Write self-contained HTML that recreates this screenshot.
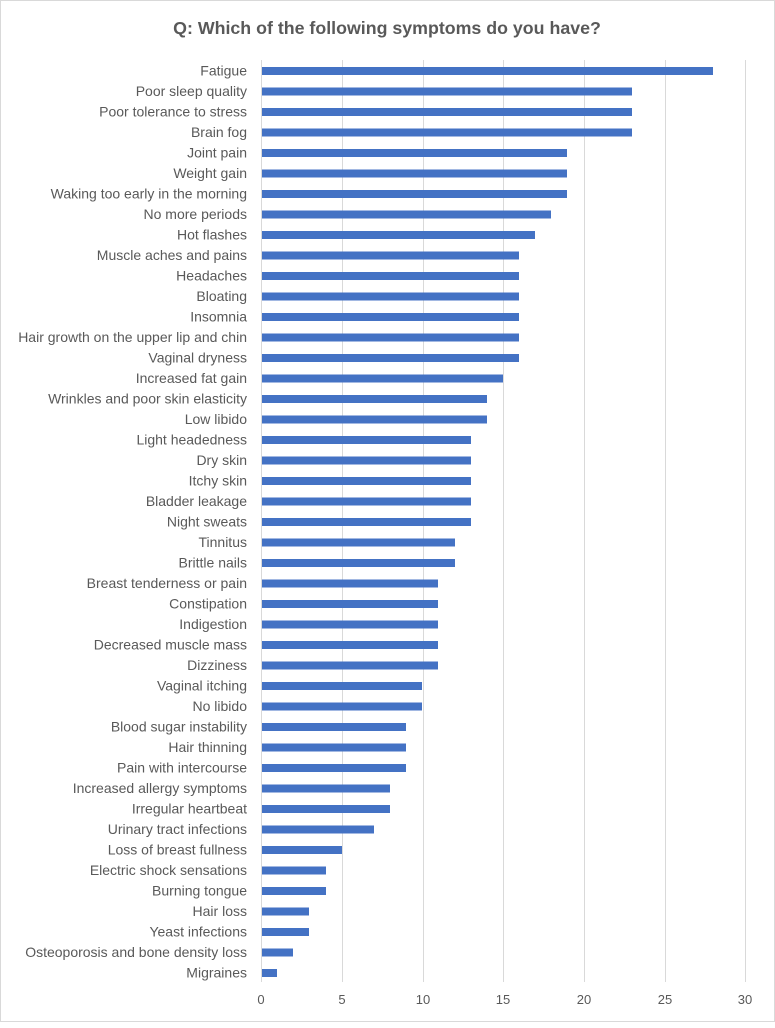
<!DOCTYPE html>
<html><head><style>body{margin:0;background:#fff}</style></head><body>
<svg width="775" height="1023" xmlns="http://www.w3.org/2000/svg" font-family="Liberation Sans, sans-serif">
<rect x="0.5" y="0.5" width="774" height="1021" fill="#fff" stroke="#d9d9d9"/>
<text x="387" y="34" text-anchor="middle" font-size="17.8" font-weight="bold" fill="#595959">Q: Which of the following symptoms do you have?</text>
<g stroke="#d9d9d9" stroke-width="1">
<line x1="342.5" y1="60" x2="342.5" y2="982"/><line x1="423.5" y1="60" x2="423.5" y2="982"/><line x1="503.5" y1="60" x2="503.5" y2="982"/><line x1="584.5" y1="60" x2="584.5" y2="982"/><line x1="665.5" y1="60" x2="665.5" y2="982"/><line x1="745.5" y1="60" x2="745.5" y2="982"/>
<line x1="261.5" y1="60" x2="261.5" y2="982"/>
</g>
<g font-size="13" fill="#595959" text-anchor="middle">
<text x="261" y="1004">0</text><text x="342" y="1004">5</text><text x="423" y="1004">10</text><text x="503" y="1004">15</text><text x="584" y="1004">20</text><text x="665" y="1004">25</text><text x="745" y="1004">30</text>
</g>
<g fill="#4472c4">
<rect x="262" y="67" width="451" height="8"/>
<rect x="262" y="87.5" width="370" height="8"/>
<rect x="262" y="108" width="370" height="8"/>
<rect x="262" y="128.5" width="370" height="8"/>
<rect x="262" y="149" width="305" height="8"/>
<rect x="262" y="169.5" width="305" height="8"/>
<rect x="262" y="190" width="305" height="8"/>
<rect x="262" y="210.5" width="289" height="8"/>
<rect x="262" y="231" width="273" height="8"/>
<rect x="262" y="251.5" width="257" height="8"/>
<rect x="262" y="272" width="257" height="8"/>
<rect x="262" y="292.5" width="257" height="8"/>
<rect x="262" y="313" width="257" height="8"/>
<rect x="262" y="333.5" width="257" height="8"/>
<rect x="262" y="354" width="257" height="8"/>
<rect x="262" y="374.5" width="241" height="8"/>
<rect x="262" y="395" width="225" height="8"/>
<rect x="262" y="415.5" width="225" height="8"/>
<rect x="262" y="436" width="209" height="8"/>
<rect x="262" y="456.5" width="209" height="8"/>
<rect x="262" y="477" width="209" height="8"/>
<rect x="262" y="497.5" width="209" height="8"/>
<rect x="262" y="518" width="209" height="8"/>
<rect x="262" y="538.5" width="193" height="8"/>
<rect x="262" y="559" width="193" height="8"/>
<rect x="262" y="579.5" width="176" height="8"/>
<rect x="262" y="600" width="176" height="8"/>
<rect x="262" y="620.5" width="176" height="8"/>
<rect x="262" y="641" width="176" height="8"/>
<rect x="262" y="661.5" width="176" height="8"/>
<rect x="262" y="682" width="160" height="8"/>
<rect x="262" y="702.5" width="160" height="8"/>
<rect x="262" y="723" width="144" height="8"/>
<rect x="262" y="743.5" width="144" height="8"/>
<rect x="262" y="764" width="144" height="8"/>
<rect x="262" y="784.5" width="128" height="8"/>
<rect x="262" y="805" width="128" height="8"/>
<rect x="262" y="825.5" width="112" height="8"/>
<rect x="262" y="846" width="80" height="8"/>
<rect x="262" y="866.5" width="64" height="8"/>
<rect x="262" y="887" width="64" height="8"/>
<rect x="262" y="907.5" width="47" height="8"/>
<rect x="262" y="928" width="47" height="8"/>
<rect x="262" y="948.5" width="31" height="8"/>
<rect x="262" y="969" width="15" height="8"/>
</g>
<g font-size="14" fill="#595959" text-anchor="end">
<text x="247" y="75.5">Fatigue</text>
<text x="247" y="96">Poor sleep quality</text>
<text x="247" y="116.5">Poor tolerance to stress</text>
<text x="247" y="137">Brain fog</text>
<text x="247" y="157.5">Joint pain</text>
<text x="247" y="178">Weight gain</text>
<text x="247" y="198.5">Waking too early in the morning</text>
<text x="247" y="219">No more periods</text>
<text x="247" y="239.5">Hot flashes</text>
<text x="247" y="260">Muscle aches and pains</text>
<text x="247" y="280.5">Headaches</text>
<text x="247" y="301">Bloating</text>
<text x="247" y="321.5">Insomnia</text>
<text x="247" y="342">Hair growth on the upper lip and chin</text>
<text x="247" y="362.5">Vaginal dryness</text>
<text x="247" y="383">Increased fat gain</text>
<text x="247" y="403.5">Wrinkles and poor skin elasticity</text>
<text x="247" y="424">Low libido</text>
<text x="247" y="444.5">Light headedness</text>
<text x="247" y="465">Dry skin</text>
<text x="247" y="485.5">Itchy skin</text>
<text x="247" y="506">Bladder leakage</text>
<text x="247" y="526.5">Night sweats</text>
<text x="247" y="547">Tinnitus</text>
<text x="247" y="567.5">Brittle nails</text>
<text x="247" y="588">Breast tenderness or pain</text>
<text x="247" y="608.5">Constipation</text>
<text x="247" y="629">Indigestion</text>
<text x="247" y="649.5">Decreased muscle mass</text>
<text x="247" y="670">Dizziness</text>
<text x="247" y="690.5">Vaginal itching</text>
<text x="247" y="711">No libido</text>
<text x="247" y="731.5">Blood sugar instability</text>
<text x="247" y="752">Hair thinning</text>
<text x="247" y="772.5">Pain with intercourse</text>
<text x="247" y="793">Increased allergy symptoms</text>
<text x="247" y="813.5">Irregular heartbeat</text>
<text x="247" y="834">Urinary tract infections</text>
<text x="247" y="854.5">Loss of breast fullness</text>
<text x="247" y="875">Electric shock sensations</text>
<text x="247" y="895.5">Burning tongue</text>
<text x="247" y="916">Hair loss</text>
<text x="247" y="936.5">Yeast infections</text>
<text x="247" y="957">Osteoporosis and bone density loss</text>
<text x="247" y="977.5">Migraines</text>
</g>
</svg>
</body></html>
